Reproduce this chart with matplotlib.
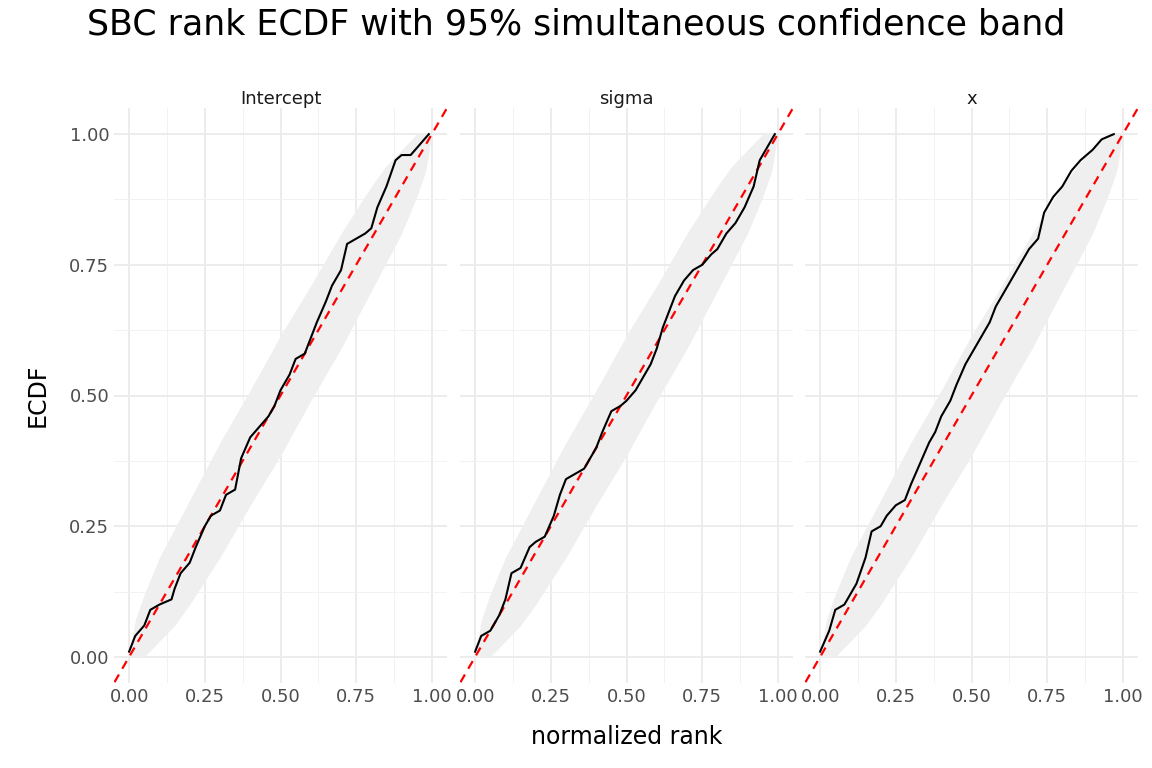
import numpy as np
import matplotlib
matplotlib.use('Agg')
import matplotlib.pyplot as plt

TITLE = 'SBC rank ECDF with 95% simultaneous confidence band'
PANELS = ['Intercept', 'sigma', 'x']

# ECDF curves (rank, ecdf)
intercept_rank = [0.0, 0.02, 0.05, 0.07, 0.10, 0.14, 0.15, 0.17, 0.20, 0.22, 0.25, 0.27, 0.30, 0.32, 0.35,
                  0.37, 0.40, 0.43, 0.46, 0.48, 0.50, 0.53, 0.55, 0.58, 0.60, 0.62, 0.65, 0.67, 0.70, 0.72,
                  0.75, 0.78, 0.80, 0.82, 0.85, 0.88, 0.90, 0.93, 0.96, 0.99]
intercept_ecdf = [0.01, 0.04, 0.06, 0.09, 0.10, 0.11, 0.13, 0.16, 0.18, 0.21, 0.25, 0.27, 0.28, 0.31, 0.32,
                  0.38, 0.42, 0.44, 0.46, 0.48, 0.51, 0.54, 0.57, 0.58, 0.61, 0.64, 0.68, 0.71, 0.74, 0.79,
                  0.80, 0.81, 0.82, 0.86, 0.90, 0.95, 0.96, 0.96, 0.98, 1.00]
sigma_rank = [0.0, 0.02, 0.05, 0.08, 0.10, 0.12, 0.15, 0.18, 0.20, 0.23, 0.26, 0.28, 0.30, 0.33, 0.36, 0.38,
              0.40, 0.42, 0.45, 0.48, 0.50, 0.53, 0.55, 0.58, 0.60, 0.62, 0.64, 0.66, 0.69, 0.72, 0.75, 0.78,
              0.80, 0.83, 0.86, 0.89, 0.92, 0.94, 0.97, 0.99]
sigma_ecdf = [0.01, 0.04, 0.05, 0.08, 0.11, 0.16, 0.17, 0.21, 0.22, 0.23, 0.27, 0.31, 0.34, 0.35, 0.36, 0.38,
              0.40, 0.43, 0.47, 0.48, 0.49, 0.51, 0.53, 0.56, 0.59, 0.63, 0.66, 0.69, 0.72, 0.74, 0.75, 0.77,
              0.78, 0.81, 0.83, 0.86, 0.90, 0.95, 0.98, 1.00]
x_rank = [0.0, 0.03, 0.05, 0.08, 0.10, 0.12, 0.15, 0.17, 0.20, 0.22, 0.25, 0.28, 0.30, 0.33, 0.36, 0.38, 0.40,
          0.43, 0.45, 0.48, 0.50, 0.53, 0.56, 0.58, 0.60, 0.63, 0.66, 0.69, 0.72, 0.74, 0.77, 0.80, 0.83, 0.86,
          0.90, 0.93, 0.97]
x_ecdf = [0.01, 0.05, 0.09, 0.10, 0.12, 0.14, 0.19, 0.24, 0.25, 0.27, 0.29, 0.30, 0.33, 0.37, 0.41, 0.43, 0.46,
          0.49, 0.52, 0.56, 0.58, 0.61, 0.64, 0.67, 0.69, 0.72, 0.75, 0.78, 0.80, 0.85, 0.88, 0.90, 0.93, 0.95,
          0.97, 0.99, 1.00]

# confidence band (same for all panels)
band_rank = [0.0, 0.02, 0.05, 0.10, 0.15, 0.20, 0.30, 0.40, 0.50, 0.60, 0.70, 0.80, 0.85, 0.90, 0.95, 0.98, 1.0]
band_lo = [0.0, 0.0, 0.0, 0.03, 0.06, 0.10, 0.19, 0.29, 0.385, 0.49, 0.59, 0.70, 0.755, 0.81, 0.88, 0.93, 1.0]
band_hi = [0.0, 0.07, 0.12, 0.19, 0.245, 0.30, 0.41, 0.51, 0.615, 0.71, 0.81, 0.90, 0.94, 0.97, 1.0, 1.0, 1.0]

curves = [(intercept_rank, intercept_ecdf), (sigma_rank, sigma_ecdf), (x_rank, x_ecdf)]

fig = plt.figure(figsize=(11.52, 7.68), dpi=100)
lefts = [114, 460, 805]
ticks = [0, 0.25, 0.5, 0.75, 1.0]
ticklabels = ['0.00', '0.25', '0.50', '0.75', '1.00']
for i, (name, (r, e)) in enumerate(zip(PANELS, curves)):
    ax = fig.add_axes([lefts[i] / 1152, 85 / 768, 333 / 1152, 575 / 768])
    ax.set_xlim(-0.05, 1.05)
    ax.set_ylim(-0.05, 1.05)
    for s in ax.spines.values():
        s.set_visible(False)
    ax.set_xticks(ticks)
    ax.set_xticks([0.125, 0.375, 0.625, 0.875], minor=True)
    ax.set_yticks(ticks)
    ax.set_yticks([0.125, 0.375, 0.625, 0.875], minor=True)
    ax.grid(True, which='major', color='#EBEBEB', lw=1.3)
    ax.grid(True, which='minor', color='#F2F2F2', lw=0.7)
    ax.set_axisbelow(True)
    ax.tick_params(which='both', length=0, labelsize=13, labelcolor='#4D4D4D')
    ax.set_xticklabels(ticklabels)
    if i == 0:
        ax.set_yticklabels(ticklabels)
        ax.set_ylabel('ECDF', fontsize=17, labelpad=14)
    else:
        ax.set_yticklabels([])
    if i == 1:
        ax.set_xlabel('normalized rank', fontsize=17, labelpad=14)
    ax.fill_between(band_rank, band_lo, band_hi, color='#EFEFEF', lw=0)
    ax.plot([-0.1, 1.1], [-0.1, 1.1], color='red', ls=(0, (4, 3)), lw=1.6)
    ax.plot(r, e, color='black', lw=1.5)
    ax.set_title(name, fontsize=13, color='#1A1A1A', pad=3)

fig.suptitle(TITLE, fontsize=25, y=0.99)
fig.savefig('out.png', dpi=100)
